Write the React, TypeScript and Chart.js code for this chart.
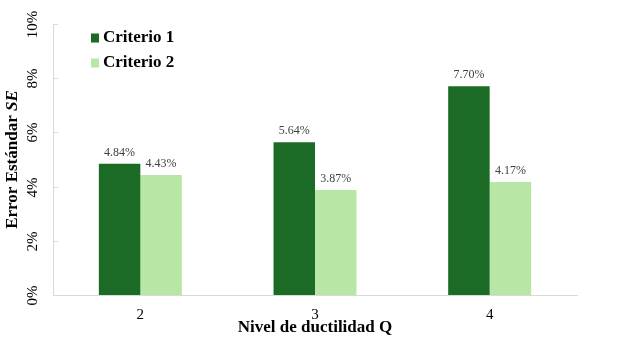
import React, { useEffect, useRef } from "react";
import { Chart, registerables } from "chart.js";

Chart.register(...registerables);

const categories = ["2", "3", "4"];
const criterio1 = [4.84, 5.64, 7.7];
const criterio2 = [4.43, 3.87, 4.17];
const seriesNames = ["Criterio 1", "Criterio 2"];
const yTicks = [0, 2, 4, 6, 8, 10];

const DARK = "#1b6b27";
const LIGHT = "#b7e6a5";

export default function App() {
  const ref = useRef<HTMLCanvasElement>(null);
  useEffect(() => {
    document.body.style.margin = "0";
    const canvas = ref.current!;
    const overlay = {
      id: "overlay",
      afterDatasetsDraw(chart: any) {
        const ctx = chart.ctx;
        const area = chart.chartArea;
        const yScale = chart.scales.y;
        ctx.save();
        // y tick labels (rotated) and inner tick marks
        ctx.strokeStyle = "#d9d9d9";
        ctx.lineWidth = 1;
        yTicks.forEach((v) => {
          const py = Math.round(yScale.getPixelForValue(v)) + 0.5;
          ctx.beginPath();
          ctx.moveTo(area.left, py);
          ctx.lineTo(area.left + 5, py);
          ctx.stroke();
          ctx.save();
          ctx.translate(33, py);
          ctx.rotate(-Math.PI / 2);
          ctx.font = "15px 'Liberation Serif'";
          ctx.fillStyle = "#000";
          ctx.textAlign = "center";
          ctx.textBaseline = "middle";
          ctx.fillText(v + "%", 0, 0);
          ctx.restore();
        });
        // data labels
        ctx.font = "12px 'Liberation Serif'";
        ctx.fillStyle = "#404040";
        ctx.textAlign = "center";
        ctx.textBaseline = "bottom";
        chart.data.datasets.forEach((ds: any, i: number) => {
          const meta = chart.getDatasetMeta(i);
          meta.data.forEach((bar: any, j: number) => {
            ctx.fillText(ds.data[j].toFixed(2) + "%", bar.x, bar.y - 5);
          });
        });
        // legend
        const colors = [DARK, LIGHT];
        ctx.font = "bold 17px 'Liberation Serif'";
        ctx.textAlign = "left";
        ctx.textBaseline = "middle";
        seriesNames.forEach((n, i) => {
          const cy = 38 + i * 25;
          ctx.fillStyle = colors[i];
          ctx.fillRect(91, cy - 4.5, 8, 9);
          ctx.fillStyle = "#000";
          ctx.fillText(n, 103, cy);
        });
        // x title
        ctx.textAlign = "center";
        ctx.textBaseline = "middle";
        ctx.fillText("Nivel de ductilidad Q", (area.left + area.right) / 2, 328);
        // y title with italic SE
        ctx.translate(13, (area.top + area.bottom) / 2);
        ctx.rotate(-Math.PI / 2);
        const part1 = "Error Estándar ";
        const part2 = "SE";
        ctx.font = "bold 17px 'Liberation Serif'";
        const w1 = ctx.measureText(part1).width;
        ctx.font = "bold italic 17px 'Liberation Serif'";
        const w2 = ctx.measureText(part2).width;
        const start = -(w1 + w2) / 2;
        ctx.textAlign = "left";
        ctx.font = "bold 17px 'Liberation Serif'";
        ctx.fillText(part1, start, 0);
        ctx.font = "bold italic 17px 'Liberation Serif'";
        ctx.fillText(part2, start + w1, 0);
        ctx.restore();
      },
    };
    const chart = new Chart(canvas, {
      type: "bar",
      data: {
        labels: categories,
        datasets: [
          { label: seriesNames[0], data: criterio1, backgroundColor: DARK },
          { label: seriesNames[1], data: criterio2, backgroundColor: LIGHT },
        ],
      },
      options: {
        animation: false,
        responsive: false,
        layout: { padding: { left: 0, right: 50, top: 24, bottom: 0 } },
        plugins: { legend: { display: false }, tooltip: { enabled: false } },
        datasets: { bar: { barPercentage: 1, categoryPercentage: 0.475 } },
        scales: {
          x: {
            grid: { display: false },
            border: { display: true, color: "#d9d9d9", width: 1 },
            ticks: {
              color: "#000",
              font: { family: "'Liberation Serif'", size: 15 },
              padding: 3,
            },
            afterFit(scale: any) {
              scale.height = 44;
            },
          },
          y: {
            min: 0,
            max: 10,
            afterBuildTicks(scale: any) {
              scale.ticks = yTicks.map((v) => ({ value: v }));
            },
            grid: { display: false },
            border: { display: true, color: "#d9d9d9", width: 1 },
            ticks: { display: false },
            afterFit(scale: any) {
              scale.width = 53;
            },
          },
        },
      },
      plugins: [overlay],
    } as any);
    return () => chart.destroy();
  }, []);
  return (
    <div style={{ width: 627, height: 339 }}>
      <canvas ref={ref} width={627} height={339} />
    </div>
  );
}
